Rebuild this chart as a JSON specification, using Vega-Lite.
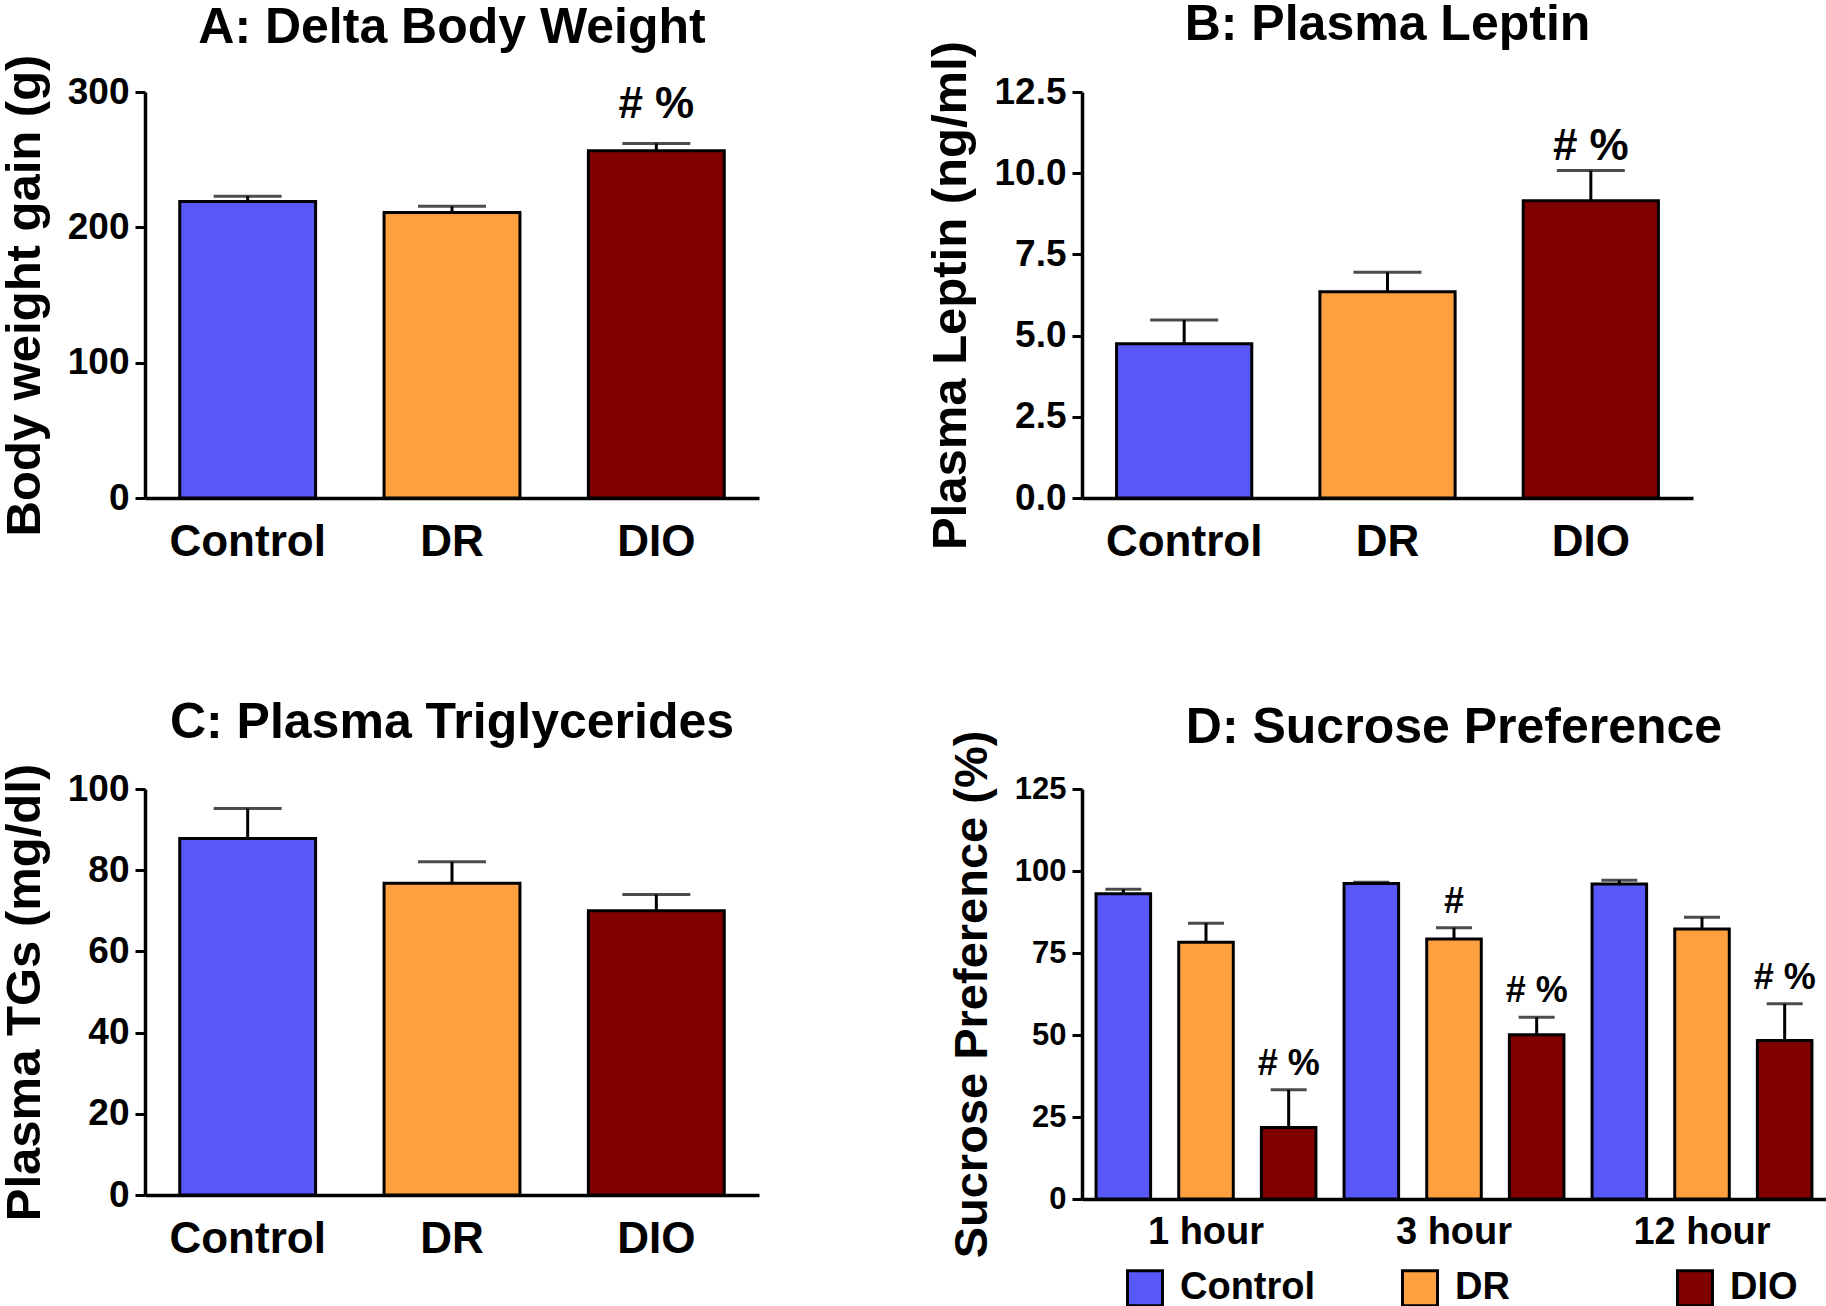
{
  "$schema": "https://vega.github.io/schema/vega-lite/v6.json",
  "padding": 0,
  "background": "white",
  "datasets": {
    "weight": [
      {"group": "Control", "mean": 219, "upper": 223, "sig": ""},
      {"group": "DR", "mean": 211, "upper": 215.5, "sig": ""},
      {"group": "DIO", "mean": 256.5, "upper": 262, "sig": "# %"}
    ],
    "leptin": [
      {"group": "Control", "mean": 4.75, "upper": 5.48, "sig": ""},
      {"group": "DR", "mean": 6.35, "upper": 6.95, "sig": ""},
      {"group": "DIO", "mean": 9.15, "upper": 10.08, "sig": "# %"}
    ],
    "tg": [
      {"group": "Control", "mean": 87.8, "upper": 95.2, "sig": ""},
      {"group": "DR", "mean": 76.8, "upper": 82.1, "sig": ""},
      {"group": "DIO", "mean": 70.0, "upper": 74.0, "sig": ""}
    ],
    "sucrose": [
      {"hour": "1 hour", "group": "Control", "mean": 93.1, "upper": 94.4, "sig": ""},
      {"hour": "1 hour", "group": "DR", "mean": 78.3, "upper": 84.1, "sig": ""},
      {"hour": "1 hour", "group": "DIO", "mean": 21.8, "upper": 33.3, "sig": "# %"},
      {"hour": "3 hour", "group": "Control", "mean": 96.2, "upper": 96.6, "sig": ""},
      {"hour": "3 hour", "group": "DR", "mean": 79.3, "upper": 82.7, "sig": "#"},
      {"hour": "3 hour", "group": "DIO", "mean": 50.1, "upper": 55.4, "sig": "# %"},
      {"hour": "12 hour", "group": "Control", "mean": 96.0, "upper": 97.2, "sig": ""},
      {"hour": "12 hour", "group": "DR", "mean": 82.3, "upper": 85.9, "sig": ""},
      {"hour": "12 hour", "group": "DIO", "mean": 48.3, "upper": 59.5, "sig": "# %"}
    ]
  },
  "config": {
    "font": "Liberation Sans",
    "view": {"stroke": null},
    "axis": {
      "domainColor": "black", "domainWidth": 3.5, "tickColor": "black", "tickWidth": 3, "tickSize": 10,
      "labelColor": "black", "labelFontWeight": "bold", "titleColor": "black", "titleFontWeight": "bold",
      "grid": false, "labelFont": "Liberation Sans", "titleFont": "Liberation Sans"
    },
    "axisX": {"ticks": false, "labelAngle": 0, "labelPadding": 22, "labelFontSize": 44},
    "axisY": {"labelFontSize": 37, "titleFontSize": 49, "labelPadding": 6, "titlePadding": 18},
    "title": {"fontSize": 50, "fontWeight": "bold", "font": "Liberation Sans", "color": "black", "offset": 5},
    "legend": {
      "title": null, "symbolType": "square", "symbolSize": 1225,
      "symbolStrokeColor": "black", "symbolStrokeWidth": 3, "labelFontSize": 38, "labelFontWeight": "bold",
      "labelColor": "black", "labelFont": "Liberation Sans", "columnPadding": 80, "labelOffset": 16,
      "gridAlign": "all"
    }
  },
  "columns": 2,
  "align": "each",
  "spacing": {"row": 134, "column": 167},
  "resolve": {"scale": {"color": "independent"}, "legend": {"color": "independent"}},
  "concat": [
    {
      "width": 614, "height": 406,
      "title": {"text": "A: Delta Body Weight", "offset": 1},
      "data": {"name": "weight"},
      "encoding": {
        "x": {"field": "group", "type": "nominal", "sort": ["Control", "DR", "DIO"], "scale": {"paddingInner": 0.335, "paddingOuter": 0.17}, "axis": {"title": null}}
      },
      "layer": [
        {"mark": {"type": "bar", "stroke": "black", "strokeWidth": 3},
         "encoding": {
           "y": {"field": "mean", "type": "quantitative", "scale": {"domain": [0, 300], "nice": false}, "axis": {"values": [0, 100, 200, 300], "title": "Body weight gain (g)"}},
           "color": {"field": "group", "type": "nominal", "scale": {"domain": ["Control", "DR", "DIO"], "range": ["#5858FA", "#FFA040", "#800000"]}, "legend": null}
         }},
        {"mark": {"type": "rule", "strokeWidth": 3, "color": "black"},
         "encoding": {
           "y": {"field": "mean", "type": "quantitative", "scale": {"domain": [0, 300], "nice": false}, "axis": {"values": [0, 100, 200, 300], "title": "Body weight gain (g)"}},
           "y2": {"field": "upper"}
         }},
        {"mark": {"type": "tick", "thickness": 3, "size": 68, "color": "black"},
         "encoding": {
           "y": {"field": "upper", "type": "quantitative", "scale": {"domain": [0, 300], "nice": false}, "axis": {"values": [0, 100, 200, 300], "title": "Body weight gain (g)"}}
         }},
        {"transform": [{"filter": "datum.sig != ''"}],
         "mark": {"type": "text", "dy": -16, "baseline": "bottom", "fontSize": 44, "fontWeight": "bold", "color": "black"},
         "encoding": {
           "y": {"field": "upper", "type": "quantitative", "scale": {"domain": [0, 300], "nice": false}, "axis": {"values": [0, 100, 200, 300], "title": "Body weight gain (g)"}},
           "text": {"field": "sig"}
         }}
      ]
    },
    {
      "width": 611, "height": 406,
      "title": {"text": "B: Plasma Leptin", "offset": -10},
      "data": {"name": "leptin"},
      "encoding": {
        "x": {"field": "group", "type": "nominal", "sort": ["Control", "DR", "DIO"], "scale": {"paddingInner": 0.335, "paddingOuter": 0.17}, "axis": {"title": null}}
      },
      "layer": [
        {"mark": {"type": "bar", "stroke": "black", "strokeWidth": 3},
         "encoding": {
           "y": {"field": "mean", "type": "quantitative", "scale": {"domain": [0, 12.5], "nice": false}, "axis": {"values": [0, 2.5, 5, 7.5, 10, 12.5], "format": ".1f", "title": "Plasma Leptin (ng/ml)"}},
           "color": {"field": "group", "type": "nominal", "scale": {"domain": ["Control", "DR", "DIO"], "range": ["#5858FA", "#FFA040", "#800000"]}, "legend": null}
         }},
        {"mark": {"type": "rule", "strokeWidth": 3, "color": "black"},
         "encoding": {
           "y": {"field": "mean", "type": "quantitative", "scale": {"domain": [0, 12.5], "nice": false}, "axis": {"values": [0, 2.5, 5, 7.5, 10, 12.5], "format": ".1f", "title": "Plasma Leptin (ng/ml)"}},
           "y2": {"field": "upper"}
         }},
        {"mark": {"type": "tick", "thickness": 3, "size": 68, "color": "black"},
         "encoding": {
           "y": {"field": "upper", "type": "quantitative", "scale": {"domain": [0, 12.5], "nice": false}, "axis": {"values": [0, 2.5, 5, 7.5, 10, 12.5], "format": ".1f", "title": "Plasma Leptin (ng/ml)"}}
         }},
        {"transform": [{"filter": "datum.sig != ''"}],
         "mark": {"type": "text", "dy": -2, "baseline": "bottom", "fontSize": 44, "fontWeight": "bold", "color": "black"},
         "encoding": {
           "y": {"field": "upper", "type": "quantitative", "scale": {"domain": [0, 12.5], "nice": false}, "axis": {"values": [0, 2.5, 5, 7.5, 10, 12.5], "format": ".1f", "title": "Plasma Leptin (ng/ml)"}},
           "text": {"field": "sig"}
         }}
      ]
    },
    {
      "width": 614, "height": 406,
      "title": {"text": "C: Plasma Triglycerides", "offset": 15},
      "data": {"name": "tg"},
      "encoding": {
        "x": {"field": "group", "type": "nominal", "sort": ["Control", "DR", "DIO"], "scale": {"paddingInner": 0.335, "paddingOuter": 0.17}, "axis": {"title": null}}
      },
      "layer": [
        {"mark": {"type": "bar", "stroke": "black", "strokeWidth": 3},
         "encoding": {
           "y": {"field": "mean", "type": "quantitative", "scale": {"domain": [0, 100], "nice": false}, "axis": {"values": [0, 20, 40, 60, 80, 100], "title": "Plasma TGs (mg/dl)"}},
           "color": {"field": "group", "type": "nominal", "scale": {"domain": ["Control", "DR", "DIO"], "range": ["#5858FA", "#FFA040", "#800000"]}, "legend": null}
         }},
        {"mark": {"type": "rule", "strokeWidth": 3, "color": "black"},
         "encoding": {
           "y": {"field": "mean", "type": "quantitative", "scale": {"domain": [0, 100], "nice": false}, "axis": {"values": [0, 20, 40, 60, 80, 100], "title": "Plasma TGs (mg/dl)"}},
           "y2": {"field": "upper"}
         }},
        {"mark": {"type": "tick", "thickness": 3, "size": 68, "color": "black"},
         "encoding": {
           "y": {"field": "upper", "type": "quantitative", "scale": {"domain": [0, 100], "nice": false}, "axis": {"values": [0, 20, 40, 60, 80, 100], "title": "Plasma TGs (mg/dl)"}}
         }}
      ]
    },
    {
      "width": 744, "height": 410,
      "title": {"text": "D: Sucrose Preference", "fontSize": 50, "offset": -23},
      "data": {"name": "sucrose"},
      "encoding": {
        "x": {"field": "hour", "type": "nominal", "sort": ["1 hour", "3 hour", "12 hour"], "scale": {"paddingInner": 0, "paddingOuter": 0}, "axis": {"title": null, "labelFontSize": 38, "labelPadding": 14}},
        "xOffset": {"field": "group", "type": "nominal", "sort": ["Control", "DR", "DIO"], "scale": {"paddingInner": 0.34, "paddingOuter": 0.17}}
      },
      "layer": [
        {"mark": {"type": "bar", "stroke": "black", "strokeWidth": 3},
         "encoding": {
           "y": {"field": "mean", "type": "quantitative", "scale": {"domain": [0, 125], "nice": false}, "axis": {"values": [0, 25, 50, 75, 100, 125], "title": "Sucrose Preference (%)", "labelFontSize": 31, "titleFontSize": 47}},
           "color": {"field": "group", "type": "nominal", "sort": ["Control", "DR", "DIO"], "scale": {"domain": ["Control", "DR", "DIO"], "range": ["#5858FA", "#FFA040", "#800000"]},
             "legend": {"orient": "none", "legendX": 44, "legendY": 480, "direction": "horizontal", "columns": 3, "symbolStrokeColor": "black", "symbolStrokeWidth": 3}}
         }},
        {"mark": {"type": "rule", "strokeWidth": 3, "color": "black"},
         "encoding": {
           "y": {"field": "mean", "type": "quantitative", "scale": {"domain": [0, 125], "nice": false}, "axis": {"values": [0, 25, 50, 75, 100, 125], "title": "Sucrose Preference (%)", "labelFontSize": 31, "titleFontSize": 47}},
           "y2": {"field": "upper"}
         }},
        {"mark": {"type": "tick", "thickness": 3, "size": 36, "color": "black"},
         "encoding": {
           "y": {"field": "upper", "type": "quantitative", "scale": {"domain": [0, 125], "nice": false}, "axis": {"values": [0, 25, 50, 75, 100, 125], "title": "Sucrose Preference (%)", "labelFontSize": 31, "titleFontSize": 47}}
         }},
        {"transform": [{"filter": "datum.sig != ''"}],
         "mark": {"type": "text", "dy": -7, "baseline": "bottom", "fontSize": 36, "fontWeight": "bold", "color": "black"},
         "encoding": {
           "y": {"field": "upper", "type": "quantitative", "scale": {"domain": [0, 125], "nice": false}, "axis": {"values": [0, 25, 50, 75, 100, 125], "title": "Sucrose Preference (%)", "labelFontSize": 31, "titleFontSize": 47}},
           "text": {"field": "sig"}
         }}
      ]
    }
  ]
}
